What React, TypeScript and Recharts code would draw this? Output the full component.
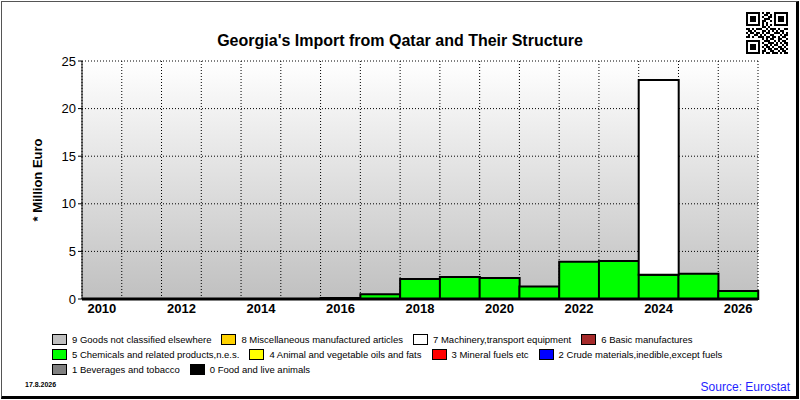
import React from 'react';
import {
  BarChart,
  Bar,
  XAxis,
  YAxis,
  CartesianGrid,
  Legend,
} from 'recharts';

const years = [
  '2010', '2011', '2012', '2013', '2014', '2015', '2016', '2017', '2018',
  '2019', '2020', '2021', '2022', '2023', '2024', '2025', '2026',
];

// Million Euro
const food = [0, 0, 0, 0, 0, 0, 0, 0, 0, 0, 0, 0, 0, 0, 0, 0, 0];
const beverages = [0, 0, 0, 0, 0, 0, 0, 0, 0, 0, 0, 0, 0, 0, 0, 0, 0];
const crude = [0, 0, 0, 0, 0, 0, 0, 0, 0, 0, 0, 0, 0, 0, 0, 0, 0];
const mineral = [0, 0, 0, 0, 0, 0, 0, 0, 0, 0, 0, 0, 0, 0, 0, 0, 0];
const oils = [0, 0, 0, 0, 0, 0, 0, 0, 0, 0, 0, 0, 0, 0, 0, 0, 0];
const chemicals = [0, 0, 0, 0, 0, 0, 0.1, 0.5, 2.1, 2.3, 2.2, 1.3, 3.9, 4.0, 2.55, 2.65, 0.85];
const basic = [0, 0, 0, 0, 0, 0, 0, 0, 0, 0, 0, 0, 0, 0, 0, 0, 0];
const machinery = [0, 0, 0, 0, 0, 0, 0, 0, 0, 0, 0, 0, 0, 0, 20.45, 0, 0];
const misc = [0, 0, 0, 0, 0, 0, 0, 0, 0, 0, 0, 0, 0, 0, 0, 0, 0];
const other = [0, 0, 0, 0, 0, 0, 0, 0, 0, 0, 0, 0, 0, 0, 0, 0, 0];

const yTicks = [0, 5, 10, 15, 20, 25];

// stacking order, bottom to top
const series = [
  { key: 's0', name: '0 Food and live animals', color: '#000000', values: food },
  { key: 's1', name: '1 Beverages and tobacco', color: '#808080', values: beverages },
  { key: 's2', name: '2 Crude materials,inedible,except fuels', color: '#0000ff', values: crude },
  { key: 's3', name: '3 Mineral fuels etc', color: '#ff0000', values: mineral },
  { key: 's4', name: '4 Animal and vegetable oils and fats', color: '#ffff00', values: oils },
  { key: 's5', name: '5 Chemicals and related products,n.e.s.', color: '#00ff00', values: chemicals },
  { key: 's6', name: '6 Basic manufactures', color: '#a52a2a', values: basic },
  { key: 's7', name: '7 Machinery,transport equipment', color: '#ffffff', values: machinery },
  { key: 's8', name: '8 Miscellaneous manufactured articles', color: '#ffd200', values: misc },
  { key: 's9', name: '9 Goods not classified elsewhere', color: '#c0c0c0', values: other },
];

const legendRows = [
  ['s9', 's8', 's7', 's6'],
  ['s5', 's4', 's3', 's2'],
  ['s1', 's0'],
];

const data = years.map((year, i) => {
  const row: Record<string, string | number> = { year, slot: i + 0.5 };
  series.forEach((s) => {
    row[s.key] = s.values[i];
  });
  return row;
});

const slotEdges = years.map((_, i) => i).concat([years.length]);

const qr = [
  '111111101011001111111',
  '100000100110101000001',
  '101110101001101011101',
  '101110100111001011101',
  '101110101100101011101',
  '100000101010001000001',
  '111111101010101111111',
  '000000001101000000000',
  '110101110010111010011',
  '011010001101010101100',
  '101101101011001110101',
  '010011010100110001011',
  '110100111011011010110',
  '000000001010110011001',
  '111111100111001010110',
  '100000101001110101011',
  '101110100110101100101',
  '101110101011010011010',
  '101110100101101101101',
  '100000101100110010110',
  '111111101011011101011',
];

const font = 'Arial, "Liberation Sans", sans-serif';

function LegendBox() {
  return (
    <div style={{ fontFamily: font, fontSize: 9.5, color: '#000' }}>
      {legendRows.map((row, r) => (
        <div
          key={r}
          style={{ display: 'flex', alignItems: 'center', height: 15, paddingLeft: 52 }}
        >
          {row.map((k) => {
            const s = series.find((x) => x.key === k)!;
            return (
              <div key={k} style={{ display: 'flex', alignItems: 'center', marginRight: 10 }}>
                <span
                  style={{
                    display: 'inline-block',
                    width: 13,
                    height: 9,
                    background: s.color,
                    border: '1px solid #000',
                    marginRight: 5,
                  }}
                />
                <span style={{ lineHeight: '10px', whiteSpace: 'nowrap' }}>{s.name}</span>
              </div>
            );
          })}
        </div>
      ))}
    </div>
  );
}

export default function App() {
  return (
    <div
      style={{
        position: 'absolute',
        left: 0,
        top: 0,
        width: 800,
        height: 400,
        background: '#fff',
        fontFamily: font,
        overflow: 'hidden',
      }}
    >
      <BarChart
        width={800}
        height={400}
        data={data}
        barCategoryGap={0}
        margin={{ top: 61, right: 42, bottom: 71, left: 22 }}
      >
        <defs>
          <linearGradient id="plotBg" x1="0" y1="0" x2="0" y2="1">
            <stop offset="0%" stopColor="#ffffff" />
            <stop offset="100%" stopColor="#c0c0c0" />
          </linearGradient>
        </defs>
        <CartesianGrid
          xAxisId="grid"
          fill="url(#plotBg)"
          fillOpacity={1}
          stroke="#000"
          strokeDasharray="1 2"
        />
        <XAxis
          xAxisId="grid"
          type="number"
          dataKey="slot"
          domain={[0, years.length]}
          ticks={slotEdges}
          height={0}
          axisLine={false}
          tickSize={5}
          tickLine={{ stroke: '#000' }}
          tickFormatter={() => ''}
        />
        <XAxis
          dataKey="year"
          interval={1}
          height={30}
          tickLine={false}
          axisLine={{ stroke: '#000', strokeWidth: 3 }}
          tick={{ fill: '#000', fontSize: 13, fontWeight: 'bold', fontFamily: font }}
          dy={-3}
        />
        <XAxis
          xAxisId="top"
          dataKey="year"
          orientation="top"
          height={0}
          tick={false}
          tickLine={false}
          axisLine={{ stroke: '#a0a0a0', strokeWidth: 2 }}
        />
        <YAxis
          domain={[0, 25]}
          ticks={yTicks}
          width={60}
          tickSize={4}
          axisLine={{ stroke: '#000' }}
          tickLine={{ stroke: '#000' }}
          tick={{ fill: '#000', fontSize: 13, fontFamily: font }}
          label={{
            value: '* Million Euro',
            angle: -90,
            position: 'insideLeft',
            offset: 15,
            style: { textAnchor: 'middle', fontWeight: 'bold', fontSize: 13, fill: '#000', fontFamily: font },
          }}
        />
        <YAxis
          yAxisId="right"
          orientation="right"
          width={0}
          domain={[0, 25]}
          tick={false}
          tickLine={false}
          axisLine={{ stroke: '#000', strokeWidth: 3 }}
        />
        {series.map((s) => (
          <Bar
            key={s.key}
            dataKey={s.key}
            name={s.name}
            stackId="a"
            fill={s.color}
            stroke="#000"
            strokeWidth={2}
            isAnimationActive={false}
          />
        ))}
        <Legend
          layout="horizontal"
          verticalAlign="middle"
          align="center"
          width={800}
          height={50}
          wrapperStyle={{ left: 0, top: 332, width: 800 }}
          content={() => <LegendBox />}
        />
      </BarChart>

      <svg
        width={800}
        height={400}
        style={{ position: 'absolute', left: 0, top: 0, pointerEvents: 'none' }}
      >
        <text
          x={400}
          y={46}
          textAnchor="middle"
          fontFamily={font}
          fontWeight="bold"
          fontSize={16}
          fill="#000"
        >
          Georgia's Import from Qatar and Their Structure
        </text>
        <text x={25} y={387} fontFamily={font} fontWeight="bold" fontSize={7} fill="#000">
          17.8.2026
        </text>
        <text x={790} y={391} textAnchor="end" fontFamily={font} fontSize={12} fill="#1f1fff">
          Source: Eurostat
        </text>
        <g transform="translate(746,12)">
          {qr.map((row, r) =>
            row.split('').map((c, col) =>
              c === '1' ? (
                <rect key={`${r}-${col}`} x={col * 2} y={r * 2} width={2} height={2} fill="#000" />
              ) : null
            )
          )}
        </g>
      </svg>

      <div
        style={{
          position: 'absolute',
          left: 1,
          top: 1,
          width: 798,
          height: 398,
          boxSizing: 'border-box',
          borderLeft: '1px solid #555',
          borderTop: '1px solid #555',
          borderRight: '3px solid #000',
          borderBottom: '3px solid #000',
          pointerEvents: 'none',
        }}
      />
    </div>
  );
}
